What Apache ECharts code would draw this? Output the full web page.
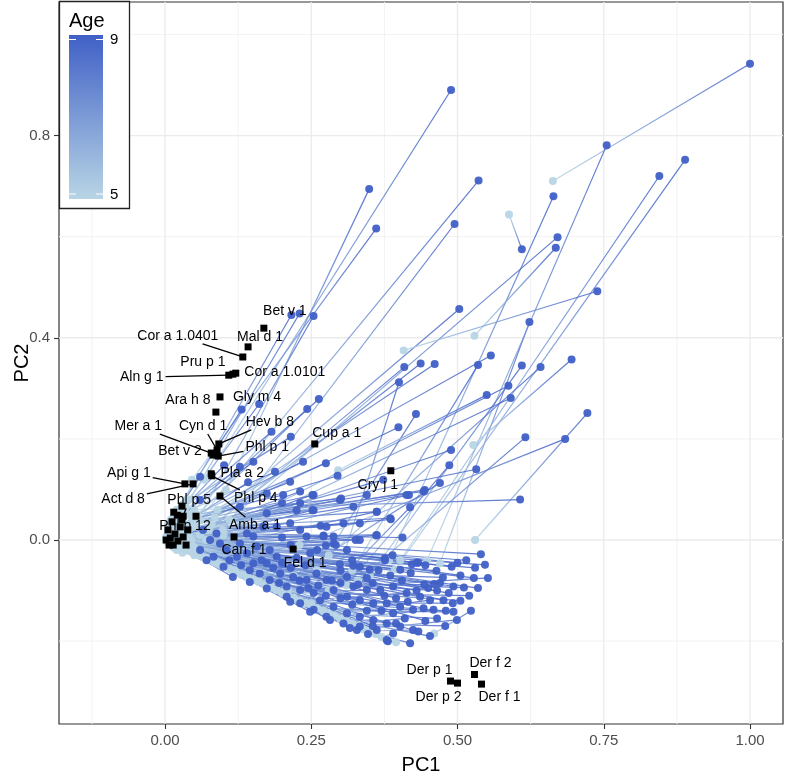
<!DOCTYPE html>
<html><head><meta charset="utf-8">
<script src="https://cdn.jsdelivr.net/npm/echarts@6/dist/echarts.min.js"></script>
<style>html,body{margin:0;padding:0;background:#fff}#c{width:787px;height:777px}</style>
</head><body><div id="c"></div><script>
// ---------------- data ----------------
const ageStart = 5, ageEnd = 9;
const ageTicks = [9, 5];
const xTicks = [0, 0.25, 0.5, 0.75, 1.0];
const xMinorGrid = [-0.125, 0.125, 0.375, 0.625, 0.875];
const yTicks = [0, 0.4, 0.8];
const yMinorGrid = [-0.2, 0.2, 0.6, 1.0];

// trajectories reaching the upper fan: position at age 5 -> position at age 9
const fanStart = [
[0.068,0.119],[0.104,0.099],[0.046,0.119],[0.058,0.040],[0.099,0.020],[0.020,0.050],[0.035,0.065],[0.050,0.030],[0.085,0.045],[0.470,-0.046],
[0.383,-0.040],[0.110,0.040],[0.529,0.404],[0.588,0.644],[0.663,0.710],[0.448,-0.040],[0.402,-0.040],[0.393,-0.059],[0.408,0.375],[0.075,0.020],
[0.300,-0.050],[0.060,0.010],[0.090,0.060],[0.320,-0.060],[0.040,0.030],[0.350,-0.070],[0.280,-0.030],[0.527,0.188],[0.070,0.000],[0.530,0.000],
[0.230,-0.010],[0.030,0.040],[0.055,0.050],[0.260,-0.060],[0.020,0.010],[0.296,0.138],[0.100,0.010],[0.330,-0.080],[0.045,0.000],[0.310,-0.090],
[0.030,0.020],[0.220,-0.070],[0.080,0.030],[0.050,0.060],[0.040,-0.010],[0.280,-0.100],[0.065,0.020],[0.015,0.010],[0.040,0.050],[0.025,0.030],
[0.010,0.020],[0.030,0.000],[0.020,-0.010],[0.060,-0.020],[0.010,0.000],[0.040,-0.020],[0.030,0.010],[0.015,-0.015],[0.005,0.000],[0.025,-0.010],
[0.010,0.015],[0.020,-0.020],[0.035,-0.005],[0.050,-0.030],[0.008,-0.008],[0.030,-0.025],[0.012,-0.005],[0.020,0.020],[0.030,0.070],[0.015,0.045],
[0.040,0.080],[0.020,0.060],[0.045,0.045],[0.015,0.025],[0.035,0.055],[0.010,0.035],[0.025,0.050],[0.005,0.030],[0.030,0.030],[0.015,0.005],
[0.020,0.015],[0.010,0.040],[0.025,0.010],[0.020,-0.015],[0.010,-0.005],[0.005,0.010],[0.015,0.030],[0.005,0.020],[0.005,-0.005],[0.010,0.000]
];
const fanEnd = [
[0.489,0.890],[0.349,0.694],[0.361,0.616],[0.536,0.711],[0.495,0.625],[0.216,0.445],[0.230,0.448],[0.254,0.443],[0.503,0.457],[0.623,0.431],
[0.664,0.680],[0.671,0.599],[0.668,0.578],[0.610,0.575],[1.000,0.942],[0.755,0.781],[0.845,0.720],[0.889,0.752],[0.739,0.492],[0.409,0.342],
[0.400,0.312],[0.437,0.349],[0.461,0.348],[0.535,0.346],[0.557,0.365],[0.610,0.345],[0.642,0.342],[0.695,0.357],[0.587,0.305],[0.722,0.251],
[0.684,0.200],[0.263,0.279],[0.243,0.259],[0.429,0.249],[0.399,0.223],[0.550,0.287],[0.591,0.281],[0.616,0.203],[0.489,0.178],[0.486,0.148],
[0.532,0.140],[0.470,0.113],[0.444,0.099],[0.607,0.080],[0.417,0.089],[0.419,0.065],[0.373,0.119],[0.322,0.066],[0.301,0.082],[0.295,0.127],
[0.275,0.152],[0.252,0.089],[0.252,0.059],[0.362,0.056],[0.386,0.041],[0.361,0.009],[0.406,0.005],[0.326,0.000],[0.292,-0.010],[0.275,-0.011],
[0.271,0.009],[0.389,-0.030],[0.433,-0.045],[0.422,-0.048],[0.376,-0.040],[0.322,-0.051],[0.299,-0.048],[0.266,0.028],[0.215,0.204],[0.182,0.214],
[0.161,0.269],[0.131,0.258],[0.236,0.155],[0.214,0.115],[0.188,0.135],[0.151,0.155],[0.128,0.145],[0.101,0.148],[0.142,0.114],[0.231,0.096],
[0.174,0.092],[0.060,0.125],[0.200,0.073],[0.288,0.007],[0.242,0.007],[0.174,0.053],[0.128,0.066],[0.060,0.079],[0.088,0.013],[0.140,0.013]
];

// trajectories staying in the dense lower cloud
const cloudStart = [
[0.030,0.005],[0.020,-0.005],[0.210,-0.100],[0.045,-0.010],[0.160,-0.080],[0.010,0.000],[0.460,-0.185],[0.250,-0.125],[0.035,0.010],[0.015,-0.008],
[0.120,-0.060],[0.050,-0.020],[0.180,-0.090],[0.025,0.015],[0.008,-0.004],[0.040,0.000],[0.090,-0.045],[0.018,-0.012],[0.140,-0.070],[0.030,-0.015],
[0.200,-0.105],[0.060,-0.030],[0.012,0.002],[0.230,-0.120],[0.070,-0.035],[0.280,-0.145],[0.022,-0.006],[0.300,-0.155],[0.100,-0.050],[0.260,-0.135],
[0.005,-0.002],[0.150,-0.078],[0.220,-0.115],[0.080,-0.040],[0.035,-0.018],[0.130,-0.068],[0.010,-0.005],[0.055,-0.025],[0.110,-0.057],[0.170,-0.088],
[0.028,-0.014],[0.190,-0.098],[0.240,-0.124],[0.065,-0.034],[0.270,-0.140],[0.310,-0.160],[0.095,-0.049],[0.330,-0.170],[0.350,-0.180],[0.370,-0.192],
[0.045,-0.023],[0.290,-0.150],[0.395,-0.202],[0.360,-0.186],[0.250,-0.130],[0.200,-0.104],[0.150,-0.078],[0.120,-0.062],[0.085,-0.044],[0.060,-0.031],
[0.020,-0.010],[0.040,-0.020],[0.015,-0.006],[0.075,-0.039],[0.050,-0.026],[0.008,-0.002],[0.030,-0.008],[0.012,0.004],[0.004,0.002],[0.020,-0.008],
[0.006,0.000],[0.010,0.008],[0.002,0.004],[0.018,0.006],[0.025,0.000],[0.010,0.012],[0.020,0.018],[0.005,0.010],[0.030,0.020],[0.015,0.005],
[0.035,-0.004],[0.008,0.006],[0.040,0.010],[0.012,-0.003],[0.025,0.012],[0.005,0.004],[0.045,0.025],[0.015,0.030],[0.030,0.008],[0.002,0.000],
[0.018,0.015],[0.028,0.035],[0.010,0.025],[0.020,0.040],[0.006,0.018],[0.035,0.030],[0.012,0.028],[0.040,0.020],[0.022,0.030],[0.008,0.015],
[0.004,0.008],[0.002,0.006],[0.006,-0.002],[0.010,-0.004],[0.014,-0.007],
[0.005,-0.003],[0.020,-0.010],[0.040,-0.021],[0.060,-0.031],[0.090,-0.047],[0.110,-0.057],[0.140,-0.073],[0.180,-0.094],[0.210,-0.109],[0.240,-0.125],
[0.300,-0.156],[0.320,-0.166],[0.340,-0.177],[0.270,-0.140],[0.200,-0.104],
[0.020,0.000],[0.010,0.010],[0.060,-0.030],[0.015,-0.005],[0.100,-0.052],[0.030,0.005],[0.005,0.000],[0.040,0.000],[0.150,-0.078],[0.025,-0.010],
[0.012,0.008],[0.200,-0.104],[0.035,-0.012],[0.180,-0.094],[0.230,-0.120],[0.280,-0.145],[0.045,-0.020],[0.320,-0.166],[0.010,-0.004],[0.260,-0.135],
[0.070,-0.036],[0.220,-0.114],[0.018,-0.006],[0.130,-0.068],[0.008,0.002],[0.050,-0.015],[0.115,-0.060],[0.022,0.004],[0.080,-0.040],[0.190,-0.099],
[0.030,-0.012],[0.240,-0.125],[0.055,-0.020],[0.014,0.006],[0.120,-0.062],[0.028,0.012],[0.006,0.004],[0.040,-0.008],[0.300,-0.156],[0.065,-0.034],
[0.015,-0.004],[0.060,-0.031],[0.008,0.003],[0.050,-0.026],[0.020,0.006],[0.085,-0.044],[0.004,0.002],[0.110,-0.057],[0.012,0.000],[0.095,-0.049],
[0.140,-0.073],[0.160,-0.083],[0.006,0.006],[0.030,0.010],[0.016,0.012]
];
const cloudEnd = [
[0.540,-0.028],[0.547,-0.049],[0.552,-0.075],[0.528,-0.075],[0.511,-0.094],[0.493,-0.092],[0.523,-0.140],[0.492,-0.125],[0.490,-0.053],[0.464,-0.061],
[0.475,-0.074],[0.460,-0.087],[0.443,-0.088],[0.430,-0.045],[0.402,-0.059],[0.376,-0.036],[0.350,-0.059],[0.333,-0.053],[0.311,-0.073],[0.322,-0.092],
[0.345,-0.099],[0.368,-0.099],[0.390,-0.092],[0.413,-0.105],[0.436,-0.112],[0.453,-0.119],[0.476,-0.119],[0.459,-0.138],[0.442,-0.135],[0.424,-0.138],
[0.402,-0.132],[0.379,-0.125],[0.356,-0.125],[0.333,-0.119],[0.311,-0.112],[0.288,-0.099],[0.276,-0.079],[0.259,-0.066],[0.242,-0.079],[0.231,-0.099],
[0.254,-0.105],[0.265,-0.119],[0.288,-0.132],[0.311,-0.145],[0.333,-0.152],[0.356,-0.158],[0.379,-0.165],[0.402,-0.171],[0.424,-0.178],[0.390,-0.185],
[0.362,-0.178],[0.333,-0.171],[0.379,-0.198],[0.419,-0.204],[0.328,-0.178],[0.305,-0.165],[0.276,-0.152],[0.254,-0.138],[0.231,-0.125],[0.208,-0.112],
[0.208,-0.092],[0.219,-0.073],[0.197,-0.066],[0.179,-0.079],[0.162,-0.066],[0.151,-0.046],[0.174,-0.046],[0.191,-0.033],[0.140,-0.026],[0.123,-0.033],
[0.105,-0.020],[0.094,-0.007],[0.128,-0.007],[0.157,-0.013],[0.179,-0.020],[0.151,0.007],[0.168,0.026],[0.191,0.026],[0.214,0.033],[0.231,0.020],
[0.248,-0.026],[0.271,0.007],[0.288,-0.007],[0.311,-0.020],[0.333,0.000],[0.362,0.010],[0.385,0.043],[0.362,0.056],[0.333,0.033],[0.305,0.033],
[0.276,0.026],[0.254,0.059],[0.231,0.073],[0.202,0.089],[0.225,0.059],[0.299,0.079],[0.254,0.089],[0.413,0.089],[0.442,0.096],[0.345,0.089],
[0.077,0.000],[0.065,0.020],[0.060,-0.020],[0.083,-0.033],[0.100,-0.053],
[0.071,-0.040],[0.116,-0.073],[0.145,-0.083],[0.174,-0.096],[0.214,-0.122],[0.248,-0.142],[0.282,-0.158],[0.316,-0.174],[0.347,-0.186],[0.381,-0.200],
[0.453,-0.190],[0.479,-0.170],[0.499,-0.158],[0.493,-0.142],[0.433,-0.181],
[0.300,-0.060],[0.320,-0.040],[0.345,-0.075],[0.365,-0.060],[0.385,-0.070],[0.405,-0.080],[0.420,-0.065],[0.445,-0.050],[0.465,-0.100],[0.485,-0.105],
[0.505,-0.070],[0.520,-0.110],[0.535,-0.095],[0.505,-0.120],[0.480,-0.140],[0.465,-0.155],[0.445,-0.160],[0.410,-0.155],[0.390,-0.145],[0.370,-0.140],
[0.345,-0.140],[0.320,-0.128],[0.300,-0.115],[0.275,-0.110],[0.262,-0.090],[0.285,-0.080],[0.300,-0.085],[0.330,-0.088],[0.355,-0.085],[0.375,-0.110],
[0.395,-0.115],[0.415,-0.122],[0.430,-0.100],[0.450,-0.095],[0.470,-0.085],[0.500,-0.045],[0.515,-0.040],[0.530,-0.055],[0.395,-0.165],[0.355,-0.170],
[0.130,-0.050],[0.145,-0.060],[0.165,-0.040],[0.185,-0.055],[0.200,-0.045],[0.215,-0.055],[0.225,-0.035],[0.240,-0.050],[0.110,-0.040],[0.195,-0.085],
[0.230,-0.080],[0.245,-0.095],[0.215,-0.010],[0.260,-0.020],[0.200,0.005]
];

// allergen components
const allergenNames = ['Bet v 1','Mal d 1','Cor a 1.0401','Pru p 1','Aln g 1','Cor a 1.0101','Gly m 4','Ara h 8','Hev b 8','Cyn d 1',
 'Mer a 1','Bet v 2','Phl p 1','Pla a 2','Phl p 4','Amb a 1','Can f 1','Api g 1','Act d 8','Phl p 5',
 'Phl p 12','Fel d 1','Cup a 1','Cry j 1','Der p 1','Der p 2','Der f 2','Der f 1',
 '','','','','','','','','','','','','','','',''];
const allergenPC1 = [0.169,0.142,0.133,0.116,0.109,0.121,0.094,0.087,0.092,0.089,
 0.079,0.082,0.091,0.079,0.080,0.094,0.118,0.034,0.048,0.031,
 0.053,0.219,0.256,0.386,0.488,0.500,0.529,0.541,
 0.005,0.009,0.012,0.017,0.022,0.026,0.014,0.031,0.036,0.021,0.007,0.029,0.039,0.002,0.015,0.029];
const allergenPC2 = [0.419,0.382,0.362,0.328,0.326,0.330,0.283,0.253,0.190,0.178,
 0.172,0.168,0.166,0.131,0.127,0.087,0.006,0.111,0.111,0.047,
 0.047,-0.018,0.190,0.137,-0.279,-0.283,-0.266,-0.285,
 0.020,0.004,0.036,0.012,-0.002,0.026,-0.010,0.006,-0.010,0.049,-0.010,0.040,0.020,0.000,0.055,0.067];

// label placement (pixels, relative to the marker) -- layout only
const labelDx = [21,12,-65,-30,-87,49,37,-28,51,-14,-73,-33,49,31,44,35,10,-56,-70,6,-11,12,22,-13,-21,-19,16,18];
const labelDy = [-17,-10,-21,-12,2,-1,0,-12,-22,-24,-27,-4,-9,-1,22,29,13,-11,15,-16,10,14,-11,14,-11,14,-11,13];
const labelLeader = [0,0,1,0,1,0,0,0,1,1,1,0,1,0,1,1,0,1,1,1,0,0,0,0,0,0,0,0];

// ---------------- styling ----------------
const LOW = [184, 213, 229], HIGH = [64, 96, 198];
function ageColor(age) {
  const t = (age - ageStart) / (ageEnd - ageStart);
  const c = LOW.map((l, k) => Math.round(l + (HIGH[k] - l) * t));
  return 'rgb(' + c.join(',') + ')';
}
const FONT = '"Liberation Sans", Arial, Helvetica, sans-serif';
const mctx = document.createElement('canvas').getContext('2d');
mctx.font = '14px ' + FONT;

const traj = fanStart.map((s, i) => [s[0], s[1], fanEnd[i][0], fanEnd[i][1]])
  .concat(cloudStart.map((s, i) => [s[0], s[1], cloudEnd[i][0], cloudEnd[i][1]]));
const startPts = fanStart.concat(cloudStart);
const endPts = fanEnd.concat(cloudEnd);
const allergenData = allergenPC1.map((x, i) => [x, allergenPC2[i]]);

const chart = echarts.init(document.getElementById('c'), null, {renderer: 'canvas'});

function gridRender(vertical, major) {
  return function (params, api) {
    const cs = params.coordSys;
    const p = api.coord([api.value(0), api.value(1)]);
    const shape = vertical ? {x1: p[0], y1: cs.y, x2: p[0], y2: cs.y + cs.height}
                           : {x1: cs.x, y1: p[1], x2: cs.x + cs.width, y2: p[1]};
    return {type: 'line', shape, style: {stroke: major ? '#EBEBEB' : '#F2F2F2', lineWidth: major ? 1.3 : 1}};
  };
}

const option = {
  animation: false,
  backgroundColor: '#fff',
  grid: {left: 59, top: 2, width: 724, height: 722, show: true, borderColor: '#333', borderWidth: 1.2,
         backgroundColor: 'transparent', outerBoundsMode: 'none', containLabel: false},
  xAxis: {
    type: 'value', min: -0.1812, max: 1.0564,
    name: 'PC1', nameLocation: 'middle', nameGap: 31,
    nameTextStyle: {fontSize: 20, color: '#000', fontFamily: FONT},
    axisLine: {show: false, onZero: false}, splitLine: {show: false},
    axisTick: {show: true, length: 5, customValues: xTicks, lineStyle: {color: '#333', width: 1.1}},
    axisLabel: {customValues: xTicks, margin: 9, fontSize: 15, color: '#4D4D4D', fontFamily: FONT, formatter: v => v.toFixed(2)}
  },
  yAxis: {
    type: 'value', min: -0.3639, max: 1.0641,
    name: 'PC2', nameLocation: 'middle', nameGap: 27, nameMoveOverlap: false,
    nameTextStyle: {fontSize: 20, color: '#000', fontFamily: FONT},
    axisLine: {show: false, onZero: false}, splitLine: {show: false},
    axisTick: {show: true, length: 5, customValues: yTicks, lineStyle: {color: '#333', width: 1.1}},
    axisLabel: {customValues: yTicks, margin: 9, fontSize: 15, color: '#4D4D4D', fontFamily: FONT, formatter: v => v.toFixed(1)}
  },
  series: [
    {type: 'custom', silent: true, z: 0, clip: true, encode: {x: 0, y: 1}, renderItem: gridRender(true, false), data: xMinorGrid.map(v => [v, 0])},
    {type: 'custom', silent: true, z: 0, clip: true, encode: {x: 0, y: 1}, renderItem: gridRender(false, false), data: yMinorGrid.map(v => [0, v])},
    {type: 'custom', silent: true, z: 0, clip: true, encode: {x: 0, y: 1}, renderItem: gridRender(true, true), data: xTicks.map(v => [v, 0])},
    {type: 'custom', silent: true, z: 0, clip: true, encode: {x: 0, y: 1}, renderItem: gridRender(false, true), data: yTicks.map(v => [0, v])},
    {
      type: 'custom', silent: true, z: 1, clip: true,
      encode: {x: [0, 2], y: [1, 3]},
      data: traj,
      renderItem(params, api) {
        const p1 = api.coord([api.value(0), api.value(1)]);
        const p2 = api.coord([api.value(2), api.value(3)]);
        return {
          type: 'line',
          shape: {x1: p1[0], y1: p1[1], x2: p2[0], y2: p2[1]},
          style: {
            stroke: new echarts.graphic.LinearGradient(p1[0], p1[1], p2[0] + 0.01, p2[1] + 0.01,
              [{offset: 0, color: ageColor(ageStart)}, {offset: 1, color: ageColor(ageEnd)}], true),
            lineWidth: 1.2, opacity: 0.85
          }
        };
      }
    },
    {type: 'scatter', silent: true, z: 2, data: startPts, symbol: 'circle', symbolSize: 8,
     itemStyle: {color: ageColor(ageStart), opacity: 0.95}},
    {type: 'scatter', silent: true, z: 3, data: endPts, symbol: 'circle', symbolSize: 8,
     itemStyle: {color: ageColor(ageEnd), opacity: 0.95}},
    {
      type: 'custom', silent: true, z: 4, clip: true, encode: {x: 0, y: 1}, data: allergenData,
      renderItem(params, api) {
        const p = api.coord([api.value(0), api.value(1)]);
        return {type: 'rect', shape: {x: p[0] - 3.5, y: p[1] - 3.5, width: 7, height: 7}, style: {fill: '#000'}};
      }
    },
    {
      type: 'custom', silent: true, z: 5, clip: false, encode: {x: 0, y: 1}, data: allergenData,
      renderItem(params, api) {
        const i = params.dataIndex;
        const name = allergenNames[i];
        if (!name) return null;
        const p = api.coord([api.value(0), api.value(1)]);
        const dx = labelDx[i], dy = labelDy[i];
        const cx = p[0] + dx, cy = p[1] + dy;
        const children = [];
        if (labelLeader[i]) {
          const hw = mctx.measureText(name).width / 2 + 2, hh = 8;
          const s = Math.min(dx !== 0 ? hw / Math.abs(dx) : Infinity, dy !== 0 ? hh / Math.abs(dy) : Infinity);
          if (s < 1) {
            const ex = cx - dx * s, ey = cy - dy * s;
            children.push({type: 'line', shape: {x1: p[0], y1: p[1], x2: ex, y2: ey}, style: {stroke: '#000', lineWidth: 1.3}});
          }
        }
        children.push({type: 'text', x: cx, y: cy, style: {text: name, fill: '#000', font: '14px ' + FONT, align: 'center', verticalAlign: 'middle'}});
        return {type: 'group', children};
      }
    }
  ],
  graphic: [
    {type: 'rect', z: 100, shape: {x: 59.5, y: 1.5, width: 70, height: 207}, style: {fill: '#fff', stroke: '#222', lineWidth: 1.3}},
    {type: 'text', z: 101, x: 69, y: 21, style: {text: 'Age', font: '20px ' + FONT, fill: '#000', verticalAlign: 'middle'}},
    {type: 'rect', z: 101, shape: {x: 69, y: 35, width: 34, height: 164},
     style: {fill: new echarts.graphic.LinearGradient(0, 0, 0, 1, [{offset: 0, color: ageColor(ageEnd)}, {offset: 1, color: ageColor(ageStart)}])}},
    {type: 'line', z: 102, shape: {x1: 69, y1: 39.5, x2: 76, y2: 39.5}, style: {stroke: '#fff', lineWidth: 1}},
    {type: 'line', z: 102, shape: {x1: 96, y1: 39.5, x2: 103, y2: 39.5}, style: {stroke: '#fff', lineWidth: 1}},
    {type: 'line', z: 102, shape: {x1: 69, y1: 194, x2: 76, y2: 194}, style: {stroke: '#fff', lineWidth: 1}},
    {type: 'line', z: 102, shape: {x1: 96, y1: 194, x2: 103, y2: 194}, style: {stroke: '#fff', lineWidth: 1}},
    {type: 'text', z: 101, x: 110, y: 40, style: {text: String(ageTicks[0]), font: '15px ' + FONT, fill: '#000', verticalAlign: 'middle'}},
    {type: 'text', z: 101, x: 110, y: 195, style: {text: String(ageTicks[1]), font: '15px ' + FONT, fill: '#000', verticalAlign: 'middle'}}
  ]
};
chart.setOption(option);
</script></body></html>
